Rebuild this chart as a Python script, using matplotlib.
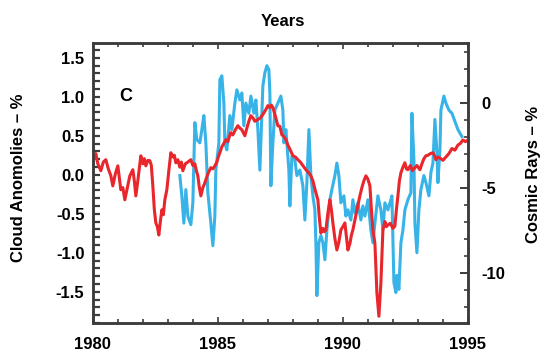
import matplotlib.pyplot as plt
from matplotlib.ticker import MultipleLocator

plt.rcParams["font.family"] = ["Liberation Sans", "DejaVu Sans"]
plt.rcParams["font.weight"] = "bold"

# cosmic rays (red, right axis, %)
ray_years = [1980.0, 1980.06, 1980.12, 1980.2, 1980.32, 1980.42, 1980.52, 1980.62, 1980.72, 1980.8,
             1980.9, 1981.0, 1981.06, 1981.12, 1981.2, 1981.28, 1981.38, 1981.48, 1981.6, 1981.66,
             1981.72, 1981.8, 1981.92, 1982.0, 1982.06, 1982.12, 1982.2, 1982.28, 1982.34, 1982.4,
             1982.46, 1982.52, 1982.58, 1982.64, 1982.7, 1982.76, 1982.82, 1982.88, 1982.96, 1983.04,
             1983.12, 1983.2, 1983.26, 1983.32, 1983.4, 1983.48, 1983.54, 1983.6, 1983.7, 1983.8,
             1983.92, 1984.0, 1984.08, 1984.14, 1984.2, 1984.26, 1984.32, 1984.4, 1984.46, 1984.52,
             1984.6, 1984.66, 1984.72, 1984.8, 1984.88, 1984.96, 1985.02, 1985.08, 1985.16, 1985.24,
             1985.32, 1985.4, 1985.46, 1985.52, 1985.6, 1985.7, 1985.8, 1985.88, 1985.96, 1986.08,
             1986.16, 1986.24, 1986.32, 1986.4, 1986.48, 1986.6, 1986.7, 1986.8, 1986.92, 1987.0,
             1987.08, 1987.14, 1987.2, 1987.3, 1987.4, 1987.48, 1987.56, 1987.64, 1987.72, 1987.8,
             1987.9, 1988.0, 1988.1, 1988.2, 1988.3, 1988.4, 1988.52, 1988.62, 1988.72, 1988.8,
             1988.9, 1989.0, 1989.06, 1989.12, 1989.2, 1989.26, 1989.32, 1989.4, 1989.48, 1989.54,
             1989.6, 1989.68, 1989.76, 1989.84, 1989.92, 1990.0, 1990.08, 1990.14, 1990.2, 1990.28,
             1990.34, 1990.4, 1990.48, 1990.56, 1990.62, 1990.68, 1990.76, 1990.84, 1990.92, 1991.0,
             1991.08, 1991.14, 1991.2, 1991.28, 1991.36, 1991.44, 1991.52, 1991.6, 1991.68, 1991.74,
             1991.8, 1991.9, 1992.0, 1992.08, 1992.14, 1992.2, 1992.26, 1992.32, 1992.4, 1992.48,
             1992.54, 1992.6, 1992.7, 1992.78, 1992.88, 1992.96, 1993.08, 1993.16, 1993.24, 1993.32,
             1993.4, 1993.5, 1993.6, 1993.66, 1993.72, 1993.8, 1993.92, 1994.0, 1994.12, 1994.24,
             1994.36, 1994.48, 1994.6, 1994.7, 1994.8, 1994.9, 1995.0]
ray_vals = [-2.95, -3.3, -3.0, -3.6, -4.01, -3.5, -3.36, -3.9, -4.3, -4.9,
            -4.2, -3.72, -4.4, -5.13, -5.0, -5.72, -5.0, -4.31, -3.95, -4.6,
            -5.49, -4.6, -3.13, -3.6, -3.3, -3.72, -3.4, -3.42, -3.7, -4.9,
            -6.3, -7.08, -7.3, -7.79, -7.0, -6.31, -6.6, -5.72, -5.13, -4.0,
            -2.95, -3.2, -3.1, -3.54, -3.36, -3.8, -3.5, -4.01, -3.6, -3.5,
            -3.36, -3.7, -3.6, -4.0, -4.31, -5.0, -5.49, -5.0, -4.8, -4.54,
            -4.2, -4.0, -3.83, -3.9, -3.72, -3.5, -3.2, -2.95, -2.6, -2.4,
            -2.18, -2.3, -2.0, -1.77, -1.9, -1.6, -1.36, -1.5, -1.6, -1.95,
            -1.5, -1.1, -0.77, -0.9, -1.1, -1.0, -0.9, -0.7, -0.41, -0.18,
            -0.3, -0.15, -0.29, -0.8, -1.36, -1.4, -1.9, -2.0, -2.18, -2.5,
            -2.8, -3.13, -3.2, -3.36, -3.5, -3.7, -3.95, -4.1, -4.31, -4.6,
            -5.2, -5.72, -6.8, -7.67, -7.4, -7.6, -7.49, -6.5, -5.72, -6.3,
            -7.08, -8.0, -8.67, -8.2, -7.49, -7.3, -7.08, -7.9, -8.67, -8.3,
            -7.8, -7.49, -6.9, -6.31, -5.9, -5.49, -5.0, -4.6, -4.31, -4.5,
            -4.9, -6.3, -7.49, -8.26, -11.2, -12.57, -10.6, -7.49, -7.0, -7.3,
            -7.2, -7.1, -7.4, -7.26, -6.3, -5.49, -4.6, -4.13, -3.8, -3.54,
            -3.9, -3.95, -3.7, -4.0, -3.83, -3.7, -3.95, -3.6, -3.3, -3.13,
            -3.1, -3.0, -2.95, -3.1, -3.36, -3.2, -3.3, -3.4, -3.2, -3.0,
            -2.7, -2.8, -2.5, -2.4, -2.2, -2.3, -2.2]

# cloud anomalies (blue, left axis, %)
cloud_years = [1983.48, 1983.56, 1983.64, 1983.72, 1983.8, 1983.92, 1984.0, 1984.08, 1984.16, 1984.28,
               1984.36, 1984.44, 1984.52, 1984.6, 1984.72, 1984.8, 1984.88, 1984.92, 1985.04, 1985.08,
               1985.16, 1985.24, 1985.28, 1985.36, 1985.48, 1985.56, 1985.68, 1985.76, 1985.88, 1985.96,
               1986.04, 1986.12, 1986.24, 1986.32, 1986.44, 1986.52, 1986.6, 1986.68, 1986.72, 1986.8,
               1986.88, 1986.96, 1987.04, 1987.08, 1987.12, 1987.2, 1987.28, 1987.4, 1987.52, 1987.6,
               1987.64, 1987.72, 1987.84, 1987.88, 1987.96, 1988.08, 1988.16, 1988.28, 1988.4, 1988.48,
               1988.56, 1988.64, 1988.72, 1988.8, 1988.88, 1988.92, 1988.96, 1989.04, 1989.12, 1989.2,
               1989.28, 1989.36, 1989.48, 1989.56, 1989.68, 1989.76, 1989.84, 1989.92, 1990.04, 1990.12,
               1990.2, 1990.32, 1990.4, 1990.48, 1990.6, 1990.72, 1990.8, 1990.88, 1991.0, 1991.12,
               1991.2, 1991.28, 1991.4, 1991.52, 1991.6, 1991.68, 1991.8, 1991.92, 1991.96, 1992.04,
               1992.12, 1992.16, 1992.24, 1992.32, 1992.4, 1992.48, 1992.6, 1992.72, 1992.76, 1992.84,
               1992.88, 1992.96, 1993.04, 1993.12, 1993.24, 1993.32, 1993.44, 1993.52, 1993.6, 1993.68,
               1993.76, 1993.8, 1993.88, 1993.92, 1994.04, 1994.12, 1994.24, 1994.36, 1994.6, 1994.76]
cloud_vals = [-0.01, -0.27, -0.62, -0.19, -0.53, -0.64, -0.36, 0.67, 0.45, 0.41,
              0.58, 0.76, 0.41, -0.23, -0.62, -0.91, -0.53, 0.06, 0.41, 1.22,
              1.27, 0.92, 0.41, 0.32, 0.76, 0.58, 0.92, 1.09, 0.96, 1.05,
              0.63, 0.92, 0.79, 1.01, 0.79, 0.96, 0.58, 0.06, 0.41, 1.14,
              1.31, 1.40, 1.35, 1.05, -0.14, 0.41, 0.83, 0.92, 1.01, 0.83,
              0.41, 0.58, 0.06, -0.4, 0.24, 0.19, -0.01, 0.06, -0.14, -0.58,
              -0.1, 0.58, -0.01, -0.27, -0.45, -0.87, -1.55, -0.87, -0.78, -0.87,
              -1.09, -0.71, -0.32, -0.19, -0.01, 0.15, -0.01, -0.36, -0.27, -0.53,
              -0.45, -0.58, -0.32, -0.49, -0.36, -0.58, -0.4, -0.53, -0.32, -0.71,
              -0.87, -0.62, -0.27, -0.45, -0.71, -0.36, -0.45, -0.32, -0.27, -1.38,
              -1.51, -1.29, -1.47, -0.87, -0.71, -0.45, -0.32, -0.23, 0.79, 0.19,
              -0.62, -1.0, -0.45, -0.19, -0.01, -0.1, -0.27, 0.03, 0.15, 0.71,
              0.28, -0.1, 0.32, 0.83, 1.01, 0.92, 0.83, 0.79, 0.58, 0.49]

year_ticks = [1980, 1985, 1990, 1995]
cloud_ticks = [-1.5, -1.0, -0.5, 0.0, 0.5, 1.0, 1.5]
ray_ticks = [-10, -5, 0]

spine_col = "#3c3c3c"
blue = "#38b3e8"
red = "#e8262b"

fig = plt.figure(figsize=(5.46, 3.56), dpi=100)
ax = fig.add_axes([0.170, 0.093, 0.687, 0.786])
ax2 = ax.twinx()

ax.plot(cloud_years, cloud_vals, color=blue, lw=2.2, solid_joinstyle="round")
ax2.plot(ray_years, ray_vals, color=red, lw=2.2, solid_joinstyle="round")

ax.set_xlim(1980, 1995)
ax.set_ylim(-1.90, 1.69)
ax2.set_ylim(-12.96, 3.5)

ax.set_xticks(year_ticks)
ax.set_xticklabels([str(y) for y in year_ticks])
ax.xaxis.set_minor_locator(MultipleLocator(1))
ax.set_yticks(cloud_ticks)
ax.set_yticklabels([f"{v:.1f}" for v in cloud_ticks])
ax.yaxis.set_minor_locator(MultipleLocator(0.1))
ax2.set_yticks(ray_ticks)
ax2.set_yticklabels([str(v) for v in ray_ticks])
ax2.yaxis.set_minor_locator(MultipleLocator(1))

for a in (ax, ax2):
    for s in a.spines.values():
        s.set_color(spine_col)
        s.set_linewidth(1.8)

ax.tick_params(axis="x", which="both", direction="in", top=True, bottom=True,
               color=spine_col, labelsize=12, pad=10)
ax.tick_params(axis="x", which="major", length=4, width=1.2)
ax.tick_params(axis="x", which="minor", length=3, width=1.2)
ax.tick_params(axis="y", which="both", direction="in", right=False,
               color=spine_col, labelsize=12, pad=6)
ax.tick_params(axis="y", which="major", length=5, width=1.6)
ax.tick_params(axis="y", which="minor", length=5, width=1.6)
ax2.tick_params(axis="y", which="both", direction="in", color=spine_col,
                labelsize=12, pad=10)
ax2.tick_params(axis="y", which="major", length=6, width=1.4)
ax2.tick_params(axis="y", which="minor", length=3, width=1.2)

for lbl in ax.get_xticklabels() + ax.get_yticklabels() + ax2.get_yticklabels():
    lbl.set_fontweight("bold")

ax.text(1981.3, 1.0, "C", fontsize=13, fontweight="bold", va="center", ha="center")

fig.text(0.518, 0.94, "Years", fontsize=12, fontweight="bold", ha="center", va="center")
fig.text(0.033, 0.50, "Cloud Anomolies \u2013 %", fontsize=12, fontweight="bold",
         rotation=90, ha="center", va="center")
fig.text(0.978, 0.51, "Cosmic Rays \u2013 %", fontsize=12, fontweight="bold",
         rotation=90, ha="center", va="center")

fig.savefig("out.png", dpi=100)
